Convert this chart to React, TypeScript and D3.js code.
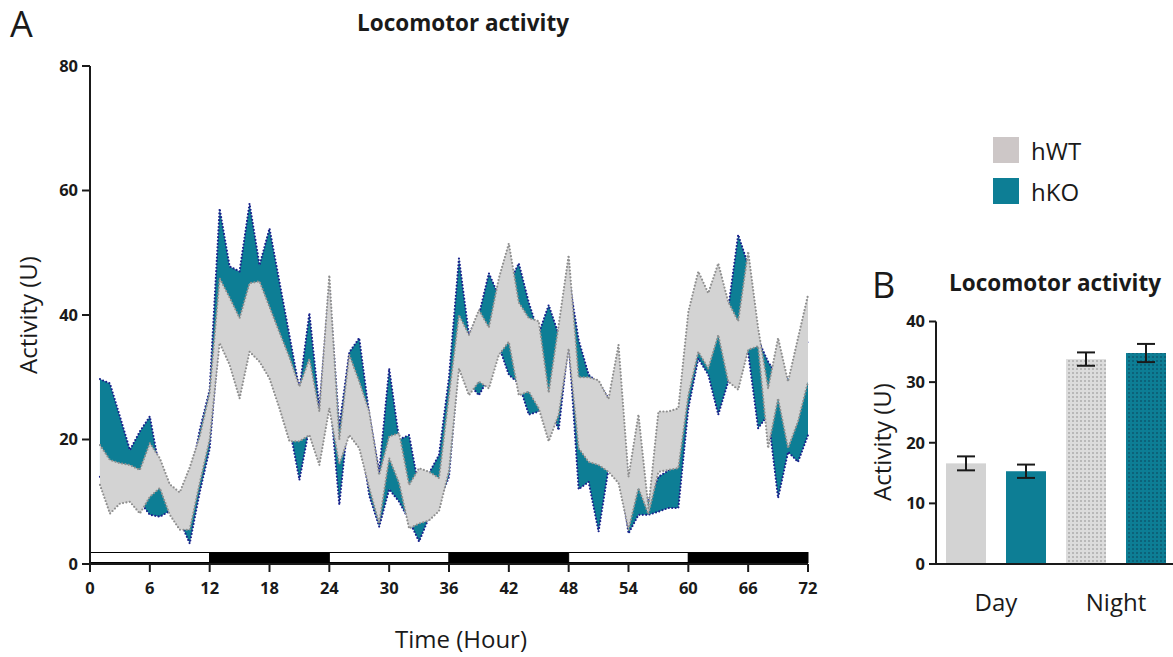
import React from 'react'
import * as d3 from 'd3'

// hourly band limits (mean +/- SEM), hours 1..72
const wtHi = [19.1, 16.7, 16.2, 15.9, 15.1, 19.4, 17.0, 12.8, 11.5, 15.5, 20.5, 27.5, 45.9, 42.8, 39.5, 45.1, 45.4, 41.3, 37.2, 33.2, 28.5, 33.0, 24.5, 46.4, 20.0, 33.6, 29.3, 24.5, 14.3, 20.5, 21.0, 12.7, 15.4, 14.8, 13.8, 27.0, 40.0, 36.8, 40.8, 38.0, 45.9, 51.5, 42.0, 39.5, 39.0, 27.5, 38.4, 49.6, 30.0, 30.0, 29.5, 26.5, 35.2, 14.0, 24.0, 9.0, 24.5, 24.5, 25.0, 40.5, 47.0, 43.5, 48.3, 42.1, 39.0, 50.2, 37.9, 28.2, 36.3, 29.3, 36.3, 43.2]
const wtLo = [12.7, 8.1, 9.7, 10.0, 8.1, 10.8, 12.2, 7.9, 5.5, 5.5, 13.0, 20.0, 35.5, 32.0, 26.6, 34.1, 32.5, 29.8, 25.0, 19.7, 19.7, 20.7, 15.9, 25.0, 16.0, 20.7, 18.6, 12.2, 6.5, 17.0, 13.0, 5.7, 6.5, 7.0, 8.5, 15.0, 31.4, 27.1, 29.3, 28.2, 33.6, 35.7, 27.1, 27.7, 25.0, 19.7, 24.0, 34.6, 18.6, 16.4, 15.9, 14.8, 13.0, 5.5, 12.2, 8.0, 14.8, 15.1, 15.4, 27.1, 34.1, 31.4, 36.8, 29.3, 28.0, 34.4, 35.0, 18.6, 26.6, 18.6, 22.9, 29.3]
const koHi = [29.7, 29.0, 23.7, 18.3, 21.3, 23.7, 15.0, 12.5, 11.2, 13.0, 21.5, 28.0, 57.1, 47.8, 47.0, 57.9, 48.0, 53.9, 45.3, 36.7, 28.0, 40.3, 25.0, 44.0, 22.0, 34.0, 36.3, 24.0, 14.8, 31.4, 20.0, 20.7, 12.0, 14.6, 17.5, 30.0, 49.1, 36.8, 40.0, 46.7, 43.0, 45.0, 48.3, 42.0, 37.0, 41.6, 36.8, 46.0, 36.0, 30.4, 29.0, 26.6, 30.0, 12.0, 14.0, 10.0, 14.0, 15.0, 20.0, 33.0, 40.0, 38.0, 40.0, 41.0, 52.9, 48.0, 36.0, 32.5, 30.0, 29.8, 30.0, 36.0]
const koLo = [14, 11, 11, 11, 10, 7.9, 7.6, 8.5, 7, 3.3, 11.5, 18.5, 38, 36, 33, 38, 36, 33, 30, 22, 13.5, 22, 20, 28, 9.5, 25, 22, 11, 6, 12, 10, 7, 3.6, 7.5, 10, 14, 33, 29, 27.1, 30, 35, 30.4, 29, 24, 24.5, 26, 21.5, 36, 12, 13.2, 5.2, 15.4, 16.4, 4.9, 7.9, 7.9, 8.4, 9, 9, 25, 33, 30.4, 24, 29.3, 31, 34, 21.8, 24, 10.6, 18, 16.4, 20.7]

const hourTicks = [0, 6, 12, 18, 24, 30, 36, 42, 48, 54, 60, 66, 72]
const actTicks = [0, 20, 40, 60, 80]
const lightDark = [
  { start: 0, end: 12, dark: false },
  { start: 12, end: 24, dark: true },
  { start: 24, end: 36, dark: false },
  { start: 36, end: 48, dark: true },
  { start: 48, end: 60, dark: false },
  { start: 60, end: 72, dark: true }
]

// panel B
const periods = ['Day', 'Night']
const groups = ['hWT', 'hKO']
const wtMean = [16.6, 33.8]
const wtSem = [1.15, 1.1]
const koMean = [15.3, 34.8]
const koSem = [1.1, 1.5]
const barTicks = [0, 10, 20, 30, 40]

const TEAL = '#0d7e95'
const GREY = '#d3d3d3'
const FONT = '"Open Sans", "Liberation Sans", sans-serif'
const INK = '#1a1a1a'

export default function App() {
  const x = d3.scaleLinear().domain([0, 72]).range([90, 808])
  const y = d3.scaleLinear().domain([0, 80]).range([564, 66])

  const band = (hi: number[], lo: number[]) =>
    d3
      .area<number>()
      .x((d, i) => x(i + 1))
      .y0((d, i) => y(lo[i]))
      .y1(d => y(d))(hi)
  const line = (vals: number[]) =>
    d3
      .line<number>()
      .x((d, i) => x(i + 1))
      .y(d => y(d))(vals)

  const dotted = { strokeDasharray: '0 3.4', strokeLinecap: 'round' as const, strokeWidth: 2.2, fill: 'none' }

  // panel B scales
  const xB = d3.scaleBand().domain(periods).range([936, 1176])
  const xInner = d3
    .scaleBand()
    .domain(groups)
    .range([0, xB.bandwidth()])
    .paddingInner(1 / 3)
    .paddingOuter(1 / 6)
  const yB = d3.scaleLinear().domain([0, 40]).range([564, 321.5])

  const bars = periods.flatMap((p, i) => [
    { period: p, group: 'hWT', mean: wtMean[i], sem: wtSem[i], night: p === 'Night' },
    { period: p, group: 'hKO', mean: koMean[i], sem: koSem[i], night: p === 'Night' }
  ])

  return (
    <svg
      width={1173}
      height={657}
      style={{ position: 'absolute', left: 0, top: 0, background: '#fff' }}
      fontFamily={FONT}
    >
      <defs>
        <pattern id="dotsWT" width="4" height="4" patternUnits="userSpaceOnUse">
          <rect width="4" height="4" fill="#dcdcdc" />
          <circle cx="1" cy="1" r="0.8" fill="#8a8a8a" />
        </pattern>
        <pattern id="dotsKO" width="4" height="4" patternUnits="userSpaceOnUse">
          <rect width="4" height="4" fill={TEAL} />
          <circle cx="1" cy="1" r="0.8" fill="#0a3f55" />
        </pattern>
      </defs>

      {/* Panel A */}
      <text x={10} y={37} fontSize={36} fill={INK}>A</text>
      <text x={463} y={31} fontSize={22.5} fontWeight="bold" textAnchor="middle" fill={INK}>
        Locomotor activity
      </text>

      <path d={band(koHi, koLo) || ''} fill={TEAL} />
      <path d={line(koHi) || ''} stroke="#1b238c" {...dotted} />
      <path d={line(koLo) || ''} stroke="#1b238c" {...dotted} />
      <path d={band(wtHi, wtLo) || ''} fill={GREY} />
      <path d={line(wtHi) || ''} stroke="#8f8f8f" {...dotted} />
      <path d={line(wtLo) || ''} stroke="#8f8f8f" {...dotted} />

      {lightDark.map(s => (
        <rect
          key={s.start}
          x={x(s.start)}
          y={552.5}
          width={x(s.end) - x(s.start)}
          height={10}
          fill={s.dark ? '#000' : '#fff'}
          stroke="#000"
          strokeWidth={1}
        />
      ))}

      {/* y axis A */}
      <line x1={90} x2={90} y1={y(80)} y2={y(0)} stroke={INK} strokeWidth={2} />
      {actTicks.map(t => (
        <g key={t}>
          <line x1={82} x2={90} y1={y(t)} y2={y(t)} stroke={INK} strokeWidth={2} />
          <text x={78} y={y(t)} dy="0.35em" textAnchor="end" fontSize={16.5} fontWeight="bold" fill={INK}>
            {t}
          </text>
        </g>
      ))}
      {/* x axis A */}
      <line x1={89} x2={808} y1={564} y2={564} stroke={INK} strokeWidth={2} />
      {hourTicks.map(t => (
        <g key={t}>
          <line x1={x(t)} x2={x(t)} y1={564} y2={572} stroke={INK} strokeWidth={2} />
          <text x={x(t)} y={594} textAnchor="middle" fontSize={16.5} fontWeight="bold" fill={INK}>
            {t}
          </text>
        </g>
      ))}
      <text
        transform={`translate(37,315) rotate(-90)`}
        textAnchor="middle"
        fontSize={24}
        fill={INK}
      >
        Activity (U)
      </text>
      <text x={461} y={648} textAnchor="middle" fontSize={24} fill={INK}>
        Time (Hour)
      </text>

      {/* legend */}
      <rect x={993} y={137} width={26} height={26} fill="#cdc7c7" />
      <text x={1031} y={160} fontSize={24} fill={INK}>hWT</text>
      <rect x={993} y={178} width={26} height={26} fill={TEAL} />
      <text x={1031} y={201} fontSize={24} fill={INK}>hKO</text>

      {/* Panel B */}
      <text x={872} y={298} fontSize={36} fill={INK}>B</text>
      <text x={1055} y={291} fontSize={22.5} fontWeight="bold" textAnchor="middle" fill={INK}>
        Locomotor activity
      </text>

      {bars.map(b => {
        const bx = (xB(b.period) || 0) + (xInner(b.group) || 0)
        const w = xInner.bandwidth()
        const cx = bx + w / 2
        const fill = b.night
          ? b.group === 'hWT'
            ? 'url(#dotsWT)'
            : 'url(#dotsKO)'
          : b.group === 'hWT'
          ? GREY
          : TEAL
        return (
          <g key={b.period + b.group}>
            <rect x={bx} y={yB(b.mean)} width={w} height={yB(0) - yB(b.mean)} fill={fill} />
            <line x1={cx} x2={cx} y1={yB(b.mean - b.sem)} y2={yB(b.mean + b.sem)} stroke={INK} strokeWidth={2} />
            <line x1={cx - 9} x2={cx + 9} y1={yB(b.mean + b.sem)} y2={yB(b.mean + b.sem)} stroke={INK} strokeWidth={2} />
            <line x1={cx - 9} x2={cx + 9} y1={yB(b.mean - b.sem)} y2={yB(b.mean - b.sem)} stroke={INK} strokeWidth={2} />
          </g>
        )
      })}

      <line x1={936} x2={936} y1={yB(40)} y2={yB(0)} stroke={INK} strokeWidth={2} />
      {barTicks.map(t => (
        <g key={t}>
          <line x1={929} x2={936} y1={yB(t)} y2={yB(t)} stroke={INK} strokeWidth={2} />
          <text x={925} y={yB(t)} dy="0.35em" textAnchor="end" fontSize={16.5} fontWeight="bold" fill={INK}>
            {t}
          </text>
        </g>
      ))}
      <line x1={935} x2={1173} y1={564} y2={564} stroke={INK} strokeWidth={2} />
      {periods.map(p => (
        <text
          key={p}
          x={(xB(p) || 0) + xB.bandwidth() / 2}
          y={611}
          textAnchor="middle"
          fontSize={24}
          fill={INK}
        >
          {p}
        </text>
      ))}
      <text transform={`translate(891,442) rotate(-90)`} textAnchor="middle" fontSize={24} fill={INK}>
        Activity (U)
      </text>
    </svg>
  )
}
